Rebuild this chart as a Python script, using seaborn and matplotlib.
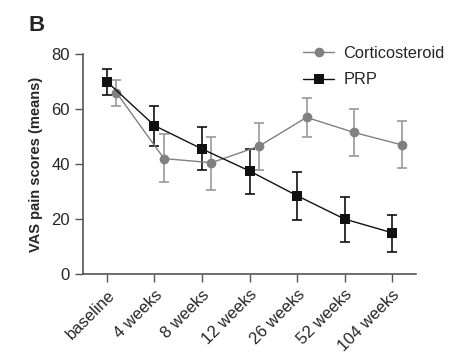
import numpy as np
import pandas as pd
import matplotlib
matplotlib.use("Agg")
import matplotlib.pyplot as plt
import seaborn as sns

# data
timepoints = ["baseline", "4 weeks", "8 weeks", "12 weeks", "26 weeks", "52 weeks", "104 weeks"]
cortico_mean = [66, 42, 40.5, 46.5, 57, 51.5, 47]
cortico_low = [61, 33.5, 30.5, 38, 50, 43, 38.5]
cortico_high = [70.5, 51, 50, 55, 64, 60, 55.5]
prp_mean = [70, 54, 45.5, 37.5, 28.5, 20, 15]
prp_low = [65, 46.5, 38, 29, 19.5, 11.5, 8]
prp_high = [74.5, 61, 53.5, 45.5, 37, 28, 21.5]

sns.set_style("ticks")
plt.rcParams["font.family"] = ["Liberation Sans", "DejaVu Sans"]

fig = plt.figure(figsize=(4.57, 3.61), dpi=100)
ax = fig.add_axes([0.182, 0.241, 0.728, 0.609])

idx = np.arange(len(timepoints))
dodge = 0.2
df = pd.concat([
    pd.DataFrame({"x": idx + dodge, "mean": cortico_mean, "lo": cortico_low,
                  "hi": cortico_high, "group": "Corticosteroid"}),
    pd.DataFrame({"x": idx, "mean": prp_mean, "lo": prp_low,
                  "hi": prp_high, "group": "PRP"}),
])

styles = {
    "Corticosteroid": dict(color="#808080", marker="o", ecolor="#999999"),
    "PRP": dict(color="#111111", marker="s", ecolor="#111111"),
}

for name, sub in df.groupby("group", sort=False):
    st = styles[name]
    ax.errorbar(sub["x"], sub["mean"],
                yerr=[sub["mean"] - sub["lo"], sub["hi"] - sub["mean"]],
                fmt="none", ecolor=st["ecolor"], elinewidth=1.2, capsize=3.6,
                capthick=1.2, zorder=2)

sns.lineplot(data=df, x="x", y="mean", hue="group", style="group",
             palette={k: v["color"] for k, v in styles.items()},
             markers={k: v["marker"] for k, v in styles.items()},
             dashes=False, markersize=7, markeredgewidth=0, linewidth=1.0,
             ax=ax, zorder=3)

ax.set_xlim(-0.5, 6.5)
ax.set_ylim(0, 80)
ax.set_yticks([0, 20, 40, 60, 80])
ax.set_xticks(idx)
ax.set_xticklabels(timepoints, rotation=45, ha="right", rotation_mode="anchor")
ax.set_xlabel("")
ax.set_ylabel("VAS pain scores (means)", fontsize=10.5, fontweight="bold", labelpad=6)
ax.tick_params(axis="both", labelsize=12, length=6, width=1, color="#555555")
ax.tick_params(axis="x", labelsize=12)
for side in ["left", "bottom"]:
    ax.spines[side].set_color("#555555")
    ax.spines[side].set_linewidth(1.2)
sns.despine(ax=ax)

ax.legend_.remove()
h, l = ax.get_legend_handles_labels()
fig.legend(h, l, loc="upper left", bbox_to_anchor=(0.663, 0.872),
           bbox_transform=fig.transFigure, frameon=False, fontsize=11.8,
           borderpad=0, borderaxespad=0, handlelength=1.9,
           handletextpad=0.55, labelspacing=0.68)

fig.text(0.062, 0.914, "B", fontsize=16, fontweight="bold")

fig.savefig("out.png", dpi=100)
